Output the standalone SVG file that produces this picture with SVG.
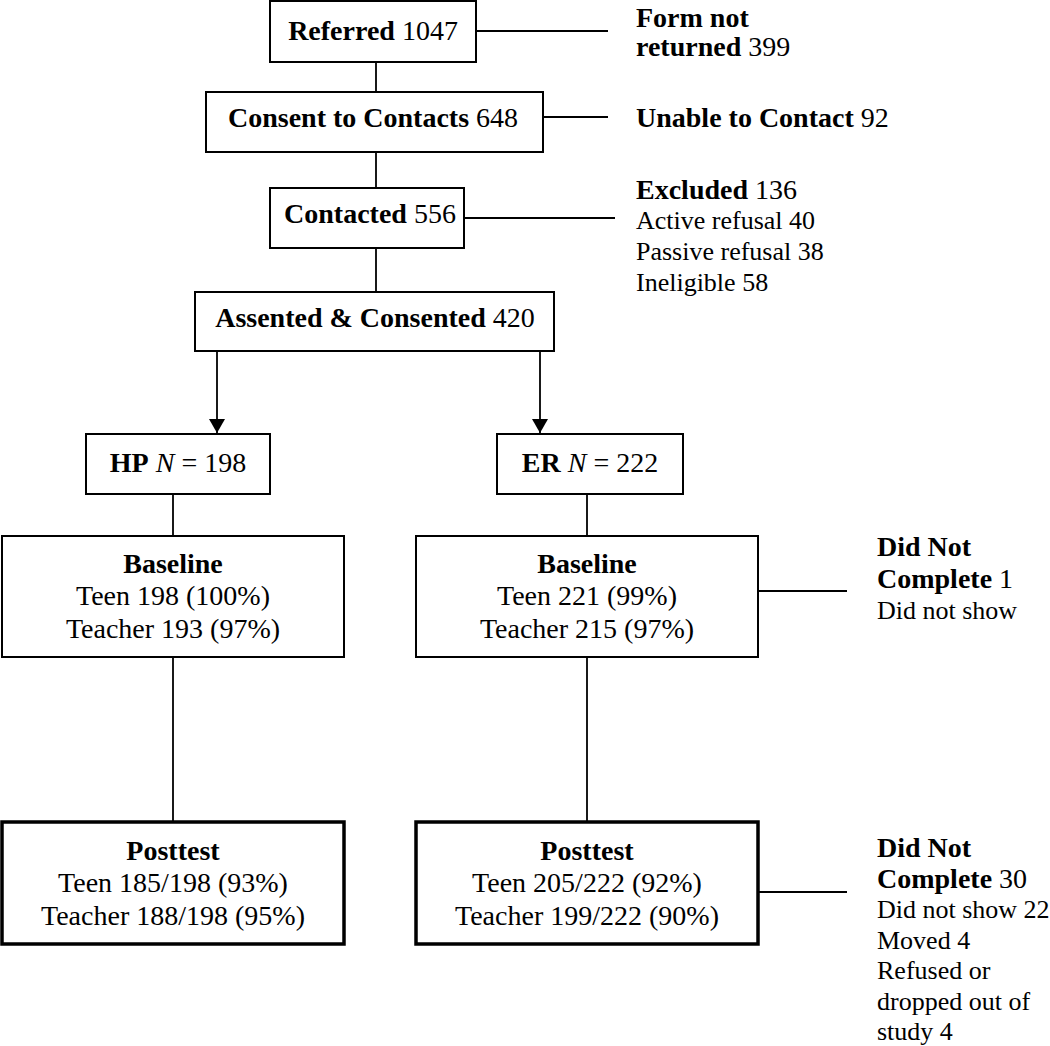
<svg xmlns="http://www.w3.org/2000/svg" width="1050" height="1046" viewBox="0 0 1050 1046">
<style>
text{font-family:"Liberation Serif","Times New Roman",serif;font-size:28px;fill:#000}
.b{font-weight:bold}
.c{text-anchor:middle}
.s{font-size:26px}
.box{fill:#fff;stroke:#000;stroke-width:2}
.thick{fill:#fff;stroke:#000;stroke-width:3.5}
.ln{stroke:#000;stroke-width:1.8;fill:none}
</style>
<defs>
<marker id="arr" viewBox="0 0 14 16" refX="14" refY="8" markerWidth="14" markerHeight="16" markerUnits="userSpaceOnUse" orient="auto">
<path d="M0,0 L14,8 L0,16 Z" fill="#000"/>
</marker>
</defs>
<g id="connectors">
<line class="ln" x1="376" y1="62" x2="376" y2="92"/>
<line class="ln" x1="376" y1="152" x2="376" y2="188"/>
<line class="ln" x1="376" y1="248" x2="376" y2="292"/>
<line class="ln" x1="476" y1="31" x2="608" y2="31"/>
<line class="ln" x1="543" y1="117" x2="608" y2="117"/>
<line class="ln" x1="464" y1="218" x2="615" y2="218"/>
<line class="ln" x1="217" y1="351" x2="217" y2="433" marker-end="url(#arr)"/>
<line class="ln" x1="540" y1="351" x2="540" y2="433" marker-end="url(#arr)"/>
<line class="ln" x1="173" y1="494" x2="173" y2="536"/>
<line class="ln" x1="587" y1="494" x2="587" y2="536"/>
<line class="ln" x1="173" y1="657" x2="173" y2="822"/>
<line class="ln" x1="587" y1="657" x2="587" y2="822"/>
<line class="ln" x1="758" y1="591" x2="847" y2="591"/>
<line class="ln" x1="758" y1="892" x2="847" y2="892"/>
</g>
<g id="referred">
<rect class="box" x="270" y="1" width="206" height="61"/>
<text x="373" y="40" class="c"><tspan class="b">Referred</tspan> 1047</text>
</g>
<g id="form-not-returned">
<text x="636" y="27" class="b">Form not</text>
<text x="636" y="56"><tspan class="b">returned</tspan> 399</text>
</g>
<g id="consent">
<rect class="box" x="206" y="92" width="337" height="60"/>
<text x="373" y="127" class="c"><tspan class="b">Consent to Contacts</tspan> 648</text>
</g>
<g id="unable">
<text x="636" y="127"><tspan class="b">Unable to Contact</tspan> 92</text>
</g>
<g id="contacted">
<rect class="box" x="270" y="188" width="194" height="60"/>
<text x="370" y="223" class="c"><tspan class="b">Contacted</tspan> 556</text>
</g>
<g id="excluded">
<text x="636" y="199"><tspan class="b">Excluded</tspan> 136</text>
<text x="636" y="229" class="s">Active refusal 40</text>
<text x="636" y="260" class="s">Passive refusal 38</text>
<text x="636" y="291" class="s">Ineligible 58</text>
</g>
<g id="assented">
<rect class="box" x="195" y="292" width="359" height="59"/>
<text x="375" y="327" class="c"><tspan class="b">Assented &amp; Consented</tspan> 420</text>
</g>
<g id="hp">
<rect class="box" x="86" y="434" width="184" height="60"/>
<text x="178" y="472" class="c"><tspan class="b">HP</tspan> <tspan font-style="italic">N</tspan> = 198</text>
</g>
<g id="er">
<rect class="box" x="497" y="434" width="186" height="60"/>
<text x="590" y="472" class="c"><tspan class="b">ER</tspan> <tspan font-style="italic">N</tspan> = 222</text>
</g>
<g id="baseline-hp">
<rect class="box" x="2" y="536" width="342" height="121"/>
<text x="173" y="573" class="c b">Baseline</text>
<text x="173" y="605" class="c">Teen 198 (100%)</text>
<text x="173" y="638" class="c">Teacher 193 (97%)</text>
</g>
<g id="baseline-er">
<rect class="box" x="416" y="536" width="342" height="121"/>
<text x="587" y="573" class="c b">Baseline</text>
<text x="587" y="605" class="c">Teen 221 (99%)</text>
<text x="587" y="638" class="c">Teacher 215 (97%)</text>
</g>
<g id="dnc-baseline">
<text x="877" y="556" class="b">Did Not</text>
<text x="877" y="588"><tspan class="b">Complete</tspan> 1</text>
<text x="877" y="619" class="s">Did not show</text>
</g>
<g id="posttest-hp">
<rect class="thick" x="2" y="822" width="342" height="122"/>
<text x="173" y="860" class="c b">Posttest</text>
<text x="173" y="892" class="c">Teen 185/198 (93%)</text>
<text x="173" y="925" class="c">Teacher 188/198 (95%)</text>
</g>
<g id="posttest-er">
<rect class="thick" x="416" y="822" width="342" height="122"/>
<text x="587" y="860" class="c b">Posttest</text>
<text x="587" y="892" class="c">Teen 205/222 (92%)</text>
<text x="587" y="925" class="c">Teacher 199/222 (90%)</text>
</g>
<g id="dnc-posttest">
<text x="877" y="857" class="b">Did Not</text>
<text x="877" y="888"><tspan class="b">Complete</tspan> 30</text>
<text x="877" y="918" class="s">Did not show 22</text>
<text x="877" y="949" class="s">Moved 4</text>
<text x="877" y="979" class="s">Refused or</text>
<text x="877" y="1010" class="s">dropped out of</text>
<text x="877" y="1040" class="s">study 4</text>
</g>
</svg>
